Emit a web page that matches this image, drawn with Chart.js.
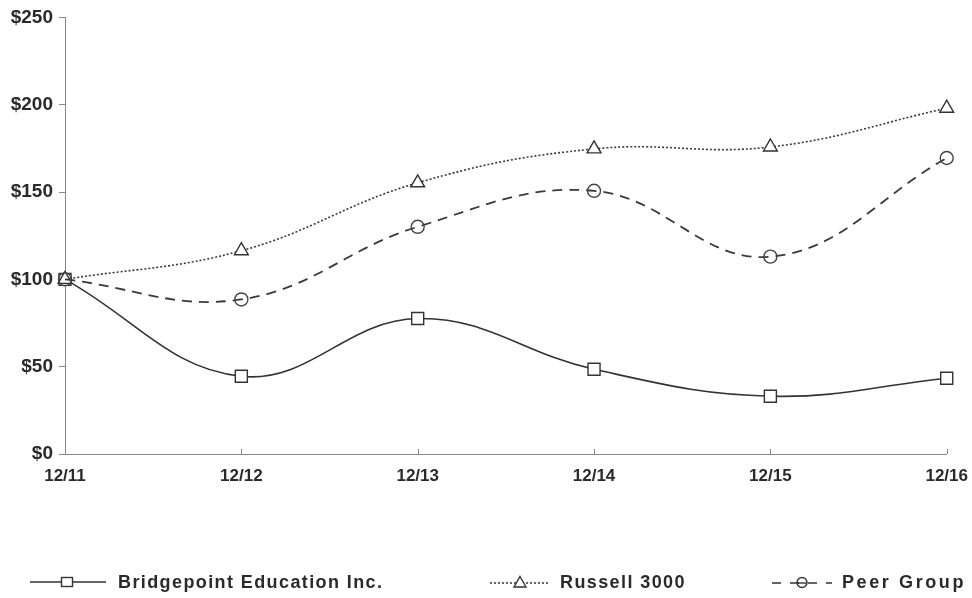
<!DOCTYPE html>
<html>
<head>
<meta charset="utf-8">
<script src="https://cdn.jsdelivr.net/npm/chart.js@4/dist/chart.umd.min.js"></script>
<style>
  html, body { margin: 0; padding: 0; background: #fff; }
  #wrap { position: relative; width: 972px; height: 598px; }
  canvas { position: absolute; left: 0; top: 0; }
  .leg { position: absolute; top: 570px; height: 24px; display: flex; align-items: center;
         font-family: "Liberation Sans", Arial, sans-serif; font-weight: bold; font-size: 18px;
         color: #2a2a2a; letter-spacing: 1.4px; white-space: nowrap; }
  .leg svg { margin-right: 10px; }
</style>
</head>
<body>
<div id="wrap">
  <canvas id="c" width="972" height="598"></canvas>
  <div class="leg" style="left:30px">
    <svg width="78" height="16"><line x1="0" y1="8" x2="76" y2="8" stroke="#333" stroke-width="1.6"/><rect x="31.5" y="3.5" width="11" height="9" fill="#fff" stroke="#333" stroke-width="1.4"/></svg>
    <span>Bridgepoint Education Inc.</span>
  </div>
  <div class="leg" style="left:490px">
    <svg width="60" height="16"><line x1="0" y1="9" x2="60" y2="9" stroke="#333" stroke-width="1.5" stroke-dasharray="2,2"/><polygon points="30,2.5 36,13 24,13" fill="#fff" stroke="#333" stroke-width="1.4"/></svg>
    <span>Russell 3000</span>
  </div>
  <div class="leg" style="left:772px; letter-spacing:2.6px">
    <svg width="60" height="16"><line x1="0" y1="9" x2="60" y2="9" stroke="#333" stroke-width="1.6" stroke-dasharray="9,9"/><circle cx="30" cy="8.5" r="5" fill="none" stroke="#333" stroke-width="1.4"/><line x1="25" y1="9" x2="35" y2="9" stroke="#333" stroke-width="1.4"/></svg>
    <span>Peer Group</span>
  </div>
</div>
<script>
const categories = ["12/11", "12/12", "12/13", "12/14", "12/15", "12/16"];
const bridgepoint = [100, 44.5, 77.6, 48.5, 33.1, 43.4];
const russell3000 = [100, 116.4, 155.3, 174.7, 175.8, 198.0];
const peerGroup   = [100, 88.5, 130.1, 150.7, 113.0, 169.5];
const yTicks = [0, 50, 100, 150, 200, 250];
const seriesNames = ["Bridgepoint Education Inc.", "Russell 3000", "Peer Group"];

const innerTicks = {
  id: 'innerTicks',
  afterDraw(chart) {
    const ctx = chart.ctx, xs = chart.scales.x, bottom = chart.chartArea.bottom;
    ctx.save();
    ctx.strokeStyle = '#888';
    ctx.lineWidth = 1;
    for (let i = 1; i < categories.length; i++) {
      const px = Math.round(xs.getPixelForTick(i)) + 0.5;
      ctx.beginPath(); ctx.moveTo(px, bottom); ctx.lineTo(px, bottom - 5); ctx.stroke();
    }
    ctx.restore();
  }
};

new Chart(document.getElementById('c'), {
  type: 'line',
  data: {
    labels: categories,
    datasets: [
      { label: seriesNames[2], data: peerGroup, borderColor: '#3a3a3a', borderWidth: 1.8,
        borderDash: [10, 7], tension: 0.4, pointStyle: 'circle', pointRadius: 6.5,
        pointBorderColor: '#444', pointBackgroundColor: 'rgba(255,255,255,0)', pointBorderWidth: 1.4 },
      { label: seriesNames[1], data: russell3000, borderColor: '#3a3a3a', borderWidth: 1.6,
        borderDash: [2, 2], tension: 0.4, pointStyle: 'triangle', pointRadius: 8,
        pointBorderColor: '#333', pointBackgroundColor: '#fff', pointBorderWidth: 1.4 },
      { label: seriesNames[0], data: bridgepoint, borderColor: '#333', borderWidth: 1.6,
        tension: 0.4, pointStyle: 'rect', pointRadius: 8.5,
        pointBorderColor: '#333', pointBackgroundColor: '#fff', pointBorderWidth: 1.4 }
    ]
  },
  options: {
    responsive: false,
    animation: false,
    layout: { padding: { top: 16, right: 24, left: 0, bottom: 0 } },
    plugins: { legend: { display: false }, tooltip: { enabled: false } },
    scales: {
      x: {
        offset: false,
        border: { color: '#888', width: 1 },
        grid: { display: false },
        ticks: { color: '#2a2a2a', font: { family: 'Liberation Sans', weight: 'bold', size: 17 },
                 padding: 4, maxRotation: 0, autoSkip: false },
        afterFit(s) { s.height = 144; }
      },
      y: {
        min: 0, max: 250,
        border: { color: '#888', width: 1 },
        grid: { drawOnChartArea: false, tickLength: 6, color: '#888' },
        afterBuildTicks(s) { s.ticks = yTicks.map(v => ({ value: v })); },
        ticks: { color: '#2a2a2a', font: { family: 'Liberation Sans', weight: 'bold', size: 19 },
                 padding: 6, callback: v => '$' + v },
        afterFit(s) { s.width = 65; }
      }
    }
  },
  plugins: [innerTicks]
});
</script>
</body>
</html>
